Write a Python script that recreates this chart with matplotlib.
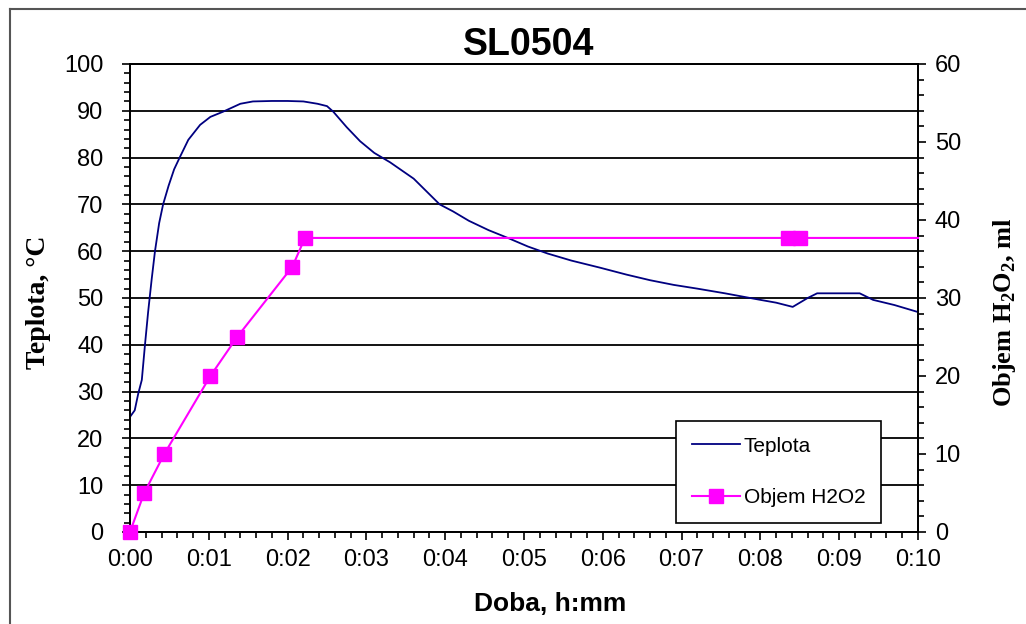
import numpy as np
import matplotlib
matplotlib.use('Agg')
import matplotlib.pyplot as plt
from matplotlib.lines import Line2D
from matplotlib.ticker import MultipleLocator, FixedLocator

plt.rcParams['font.family'] = ['Liberation Sans', 'DejaVu Sans']
plt.rcParams['mathtext.fontset'] = 'custom'
plt.rcParams['mathtext.rm'] = 'Liberation Serif:bold'
plt.rcParams['mathtext.bf'] = 'Liberation Serif:bold'

# Teplota (temperature, deg C) vs time in minutes
temp_t = [0, 0.06, 0.105, 0.15, 0.19, 0.23, 0.275, 0.317, 0.37, 0.42, 0.49, 0.56,
          0.63, 0.74, 0.89, 1.02, 1.18, 1.40, 1.56, 1.8, 2.0, 2.2, 2.38, 2.5, 2.58,
          2.75, 2.92, 3.1, 3.3, 3.6, 3.75, 3.93, 4.1, 4.3, 4.55, 4.8, 5.05, 5.3,
          5.6, 5.96, 6.3, 6.6, 6.9, 7.2, 7.55, 7.87, 8.0, 8.2, 8.41, 8.6, 8.72,
          9.0, 9.26, 9.43, 9.7, 10.0]
temp_v = [24.6, 26, 29.6, 32.5, 40, 47, 54, 60, 66, 70, 74, 77.5,
          80, 83.8, 87, 88.7, 89.8, 91.5, 92, 92.1, 92.1, 92, 91.5, 91, 89.8,
          86.5, 83.5, 81, 79, 75.5, 73, 70, 68.5, 66.5, 64.5, 62.8, 61, 59.5,
          58, 56.5, 55, 53.8, 52.8, 52, 51, 50, 49.6, 49.0, 48.1, 50, 51,
          51, 51, 49.6, 48.5, 47]

# Objem H2O2 (ml)
vol_t = [0, 0.18, 0.435, 1.02, 1.36, 2.06, 2.22, 8.35, 8.50, 10.0]
vol_v = [0, 5, 10, 20, 25, 34, 37.7, 37.7, 37.7, 37.7]

x_ticks = list(range(11))
x_labels = ['0:%02d' % m for m in x_ticks]

W, H = 1026, 624
fig = plt.figure(figsize=(W / 100, H / 100), dpi=100)
ax = fig.add_axes([130 / W, 1 - 532 / H, 788 / W, 468 / H])
ax2 = ax.twinx()

navy = '#000080'
mag = '#ff00ff'

ax.plot(temp_t, temp_v, color=navy, lw=1.3, zorder=3)
ax2.plot(vol_t, vol_v, color=mag, lw=1.5, marker='s', ms=10,
         markevery=list(range(len(vol_t) - 1)), clip_on=False, zorder=4)

ax.set_xlim(0, 10)
ax.set_ylim(0, 100)
ax2.set_ylim(0, 60)

ax.xaxis.set_major_locator(FixedLocator(x_ticks))
ax.set_xticklabels(x_labels)
ax.xaxis.set_minor_locator(MultipleLocator(0.2))
ax.yaxis.set_major_locator(MultipleLocator(10))
ax.yaxis.set_minor_locator(MultipleLocator(2))
ax2.yaxis.set_major_locator(MultipleLocator(10))
ax2.yaxis.set_minor_locator(MultipleLocator(2))

ax.grid(True, axis='y', color='black', lw=1.3)
ax.set_axisbelow(True)

for a in (ax, ax2):
    for s in a.spines.values():
        s.set_color('black')
        s.set_linewidth(1.3)

ax.tick_params(axis='both', which='major', direction='out', length=6, width=1.2,
               labelsize=17, color='black')
ax.tick_params(axis='both', which='minor', direction='out', length=4, width=1.2)
ax.tick_params(axis='y', pad=13)
ax.tick_params(axis='x', pad=6)
ax2.tick_params(axis='y', which='major', direction='out', length=6, width=1.2,
                labelsize=17, pad=6)
ax2.tick_params(axis='y', which='minor', direction='out', length=4, width=1.2)

ax.set_ylabel('Teplota, °C', family='Liberation Serif', fontweight='bold', fontsize=20)
ax.yaxis.set_label_coords(-0.100, 0.49)
ax2.set_ylabel(r'Objem H$_\mathbf{2}$O$_\mathbf{2}$, ml', family='Liberation Serif',
               fontweight='bold', fontsize=19, rotation=90)
ax2.yaxis.set_label_coords(1.093, 0.47)
ax.set_xlabel('Doba, h:mm', fontweight='bold', fontsize=19)
ax.xaxis.set_label_coords(0.533, -0.128)

fig.text(529 / W, 1 - 45 / H, 'SL0504', ha='center', va='center',
         fontsize=27, fontweight='bold')

handles = [Line2D([], [], color=navy, lw=1.3),
           Line2D([], [], color=mag, lw=1.5, marker='s', ms=10)]
leg = ax2.legend(handles, ['Teplota', 'Objem H2O2'], loc='upper left',
                 bbox_to_anchor=(676 / W, 1 - 421 / H), bbox_transform=fig.transFigure,
                 borderaxespad=0, fontsize=15, handlelength=2.3, handletextpad=0.2,
                 labelspacing=1.55, borderpad=0.75, fancybox=False, framealpha=1)
leg.get_frame().set_edgecolor('black')
leg.get_frame().set_linewidth(1.2)

# outer frame of the chart area
fig.add_artist(Line2D([10 / W, 1], [1 - 9 / H, 1 - 9 / H], color='#555555', lw=1.5,
                      transform=fig.transFigure))
fig.add_artist(Line2D([10 / W, 10 / W], [0, 1 - 9 / H], color='#555555', lw=1.5,
                      transform=fig.transFigure))

fig.savefig('out.png', dpi=100)
